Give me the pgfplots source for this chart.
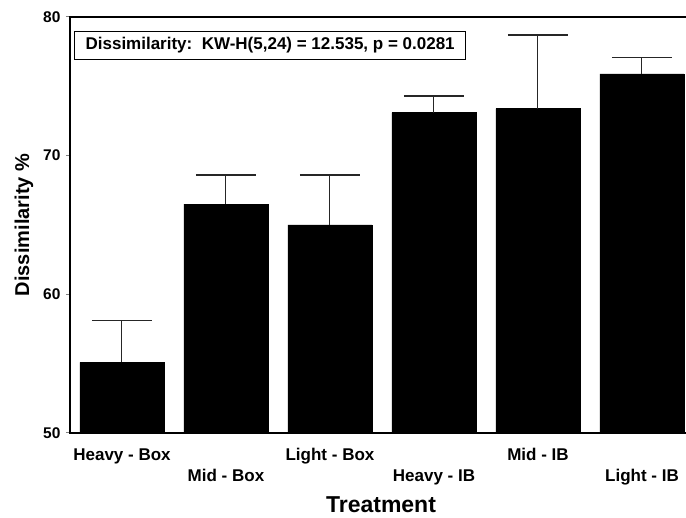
\documentclass[border=0pt]{standalone}
\usepackage{fontspec}
\setmainfont{Liberation Sans}
\usepackage{pgfplots}
\pgfplotsset{compat=1.18}
\begin{document}
\begin{tikzpicture}
\useasboundingbox (-70pt,-85pt) rectangle (616pt,433pt);
\begin{axis}[
  at={(0,0)}, anchor=south west,
  scale only axis, width=622pt, height=416pt,
  xmin=-0.5, xmax=5.481, ymin=50, ymax=80,
  axis line style={line width=1.4pt},
  ytick={50,60,70,80},
  tick align=outside, major tick length=4pt,
  y tick style={line width=1pt},
  /pgf/number format/assume math mode=true,
  yticklabel style={font=\bfseries\fontsize{15.5}{15.5}\selectfont, xshift=-2pt},
  xtick={0,2,4},
  xticklabels={Heavy - Box, Light - Box, Mid - IB},
  extra x ticks={1,3,5},
  extra x tick labels={Mid - Box, Heavy - IB, Light - IB},
  extra x tick style={xticklabel style={yshift=-21pt}},
  xtick style={draw=none},
  xticklabel style={font=\bfseries\fontsize{17}{17}\selectfont, anchor=north, yshift=-8pt},
  xlabel={Treatment},
  xlabel style={font=\bfseries\fontsize{23}{23}\selectfont, at={(axis description cs:0.5,0)}, anchor=center, yshift=-72pt},
  ylabel={Dissimilarity \%},
  ylabel style={font=\bfseries\fontsize{20}{20}\selectfont, at={(axis description cs:-0.074,0.5)}, anchor=center},
]
\addplot[ybar, bar width=84pt, fill=black, draw=black,
  error bars/.cd, y dir=plus, y explicit,
  error bar style={line width=1pt, color=black!85},
  error mark options={rotate=90, mark size=30pt, line width=1.2pt, color=black!85}]
  table[x=x, y=y, y error=e] {
  x y e
  0 55.1 3.0
  1 66.5 2.1
  2 65.0 3.6
  3 73.1 1.2
  4 73.4 5.3
  5 75.9 1.2
};
\node[draw, line width=1.2pt, anchor=north west, inner xsep=11pt, inner ysep=6pt,
  font=\bfseries\fontsize{17}{17}\selectfont]
  at (rel axis cs:0,1) [xshift=4pt, yshift=-14pt]
  {Dissimilarity:\ \ KW-H(5,24) = 12.535, p = 0.0281};
\end{axis}
\end{tikzpicture}
\end{document}
